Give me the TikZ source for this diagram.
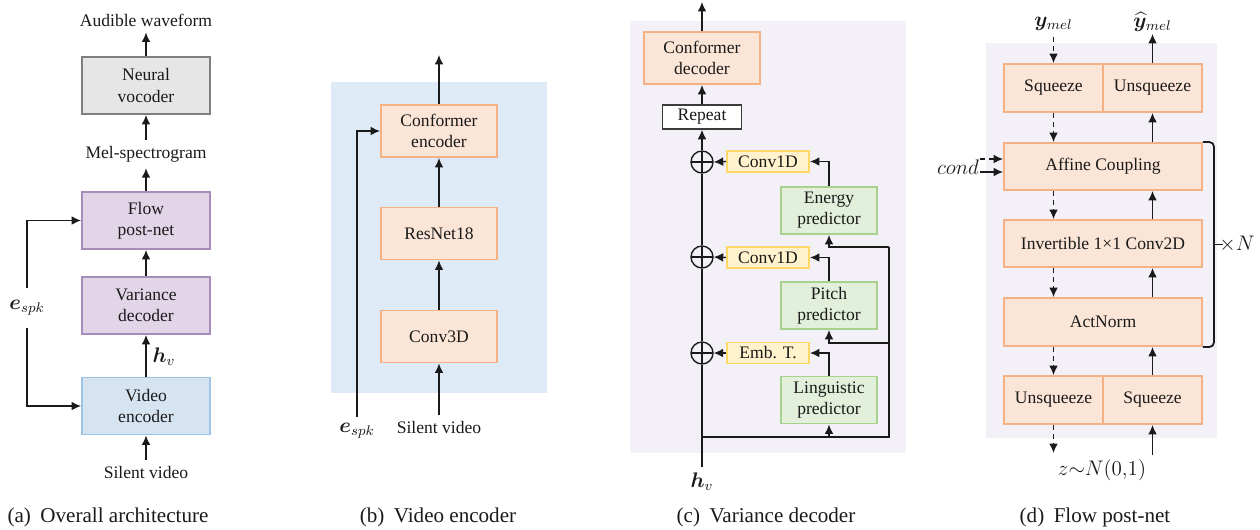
\documentclass[tikz,border=0pt]{standalone}
\usepackage{amsmath}
\usepackage{bm}
\usepackage{fontspec}
\setmainfont{Liberation Serif}
\usetikzlibrary{arrows.meta,calc}

\definecolor{orfill}{HTML}{FBE5D6}
\definecolor{ordraw}{HTML}{F4B183}
\definecolor{grfill}{HTML}{E2EFDA}
\definecolor{grdraw}{HTML}{A9D18E}
\definecolor{yefill}{HTML}{FFF2CC}
\definecolor{yedraw}{HTML}{FFD966}
\definecolor{pufill}{HTML}{E1D5E7}
\definecolor{pudraw}{HTML}{A68DBA}
\definecolor{blfill}{HTML}{D6E4F2}
\definecolor{bldraw}{HTML}{9DC3E6}
\definecolor{gyfill}{HTML}{E7E6E6}
\definecolor{gydraw}{HTML}{7F7F7F}
\definecolor{bgblue}{HTML}{DEEBF7}
\definecolor{bglav}{HTML}{F3F0F8}
\definecolor{ink}{HTML}{1A1A1A}

\tikzset{
  every node/.style={font=\fontsize{10}{12}\selectfont, text=ink},
  box/.style={draw, line width=1.1pt, align=center, inner sep=1pt},
  orbox/.style={box, draw=ordraw, fill=orfill},
  grbox/.style={box, draw=grdraw, fill=grfill},
  yebox/.style={box, draw=yedraw, fill=yefill},
  pubox/.style={box, draw=pudraw, fill=pufill},
  blbox/.style={box, draw=bldraw, fill=blfill},
  gybox/.style={box, draw=gydraw, fill=gyfill},
  whbox/.style={box, draw=ink!85, line width=0.9pt, fill=white},
  mathlbl/.style={font=\fontsize{11.5}{13}\selectfont},
  conn/.style={line width=0.8pt, draw=ink},
  arr/.style={conn, -{Latex[length=5.4pt,width=5pt]}},
  darr/.style={arr, dash pattern=on 3pt off 2.2pt},
  captext/.style={font=\fontsize{12}{14}\selectfont},
  oplus/.style={circle, draw=ink, line width=0.8pt, minimum size=0.44cm, inner sep=0pt,
    path picture={\draw[line width=0.8pt, ink]
      (path picture bounding box.north) -- (path picture bounding box.south)
      (path picture bounding box.west) -- (path picture bounding box.east);}},
}

\begin{document}
\begin{tikzpicture}[x=0.02cm, y=-0.02cm]
\useasboundingbox (0,0) rectangle (1260,529);

% ---------- (a) overall architecture ----------
\node (aud) at (146,20) {Audible waveform};
\node[gybox, minimum width=2.56cm, minimum height=1.14cm] (voc) at (146,85.5) {Neural\\vocoder};
\node (mel) at (146,154) {Mel-spectrogram};
\node[pubox, minimum width=2.56cm, minimum height=1.14cm] (flow) at (146,220.5) {Flow\\post-net};
\node[pubox, minimum width=2.56cm, minimum height=1.14cm] (var) at (146,305.5) {Variance\\decoder};
\node[blbox, minimum width=2.56cm, minimum height=1.14cm] (venc) at (146,406) {Video\\encoder};
\node (sva) at (146,472) {Silent video};
\node[mathlbl] (hva) at (164,357) {$\bm{h}_v$};
\node[mathlbl, inner ysep=7pt] (espka) at (27,308) {$\bm{e}_{spk}$};

\draw[arr] (voc.north) -- (aud.south);
\draw[arr] (mel.north) -- (voc.south);
\draw[arr] (flow.north) -- (mel.south);
\draw[arr] (var.north) -- (flow.south);
\draw[arr] (venc.north) -- (var.south);
\draw[arr] (sva.north) -- (venc.south);
\draw[arr] (espka.north) |- (flow.west);
\draw[arr] (espka.south) |- (venc.west);

\node[captext] (capa) at (108,517) {(a)\hspace{0.45em}Overall architecture};

% ---------- (b) video encoder ----------
\fill[bgblue] (331,82) rectangle (547,393);
\coordinate (bout) at (439,55);
\node[orbox, minimum width=2.32cm, minimum height=1.04cm] (cenc) at (439,131) {Conformer\\encoder};
\node[orbox, minimum width=2.32cm, minimum height=1.04cm] (res) at (439,233.5) {ResNet18};
\node[orbox, minimum width=2.32cm, minimum height=1.04cm] (c3d) at (439,336.5) {Conv3D};
\node (svb) at (439,427) {Silent video};
\node[mathlbl] (espkb) at (357,431) {$\bm{e}_{spk}$};

\draw[arr] (cenc.north) -- (bout);
\draw[arr] (res.north) -- (cenc.south);
\draw[arr] (c3d.north) -- (res.south);
\draw[arr] (svb.north) -- (c3d.south);
\draw[arr] (espkb.north) |- (cenc.west);

\node[captext] (capb) at (438,517) {(b)\hspace{0.45em}Video encoder};

% ---------- (c) variance decoder ----------
\fill[bglav] (630,21) rectangle (906,453);
\coordinate (cout) at (702,2);
\node[orbox, minimum width=2.32cm, minimum height=1.04cm] (cdec) at (702,58) {Conformer\\decoder};
\node[whbox, minimum width=1.58cm, minimum height=0.48cm] (rep) at (702,117) {Repeat};
\node[oplus] (p1) at (702,162) {};
\node[oplus] (p2) at (702,257) {};
\node[oplus] (p3) at (702,353) {};
\node[yebox, minimum width=1.64cm, minimum height=0.42cm] (cv1) at (768,161.5) {Conv1D};
\node[yebox, minimum width=1.64cm, minimum height=0.42cm] (cv2) at (768,257.5) {Conv1D};
\node[yebox, minimum width=1.64cm, minimum height=0.42cm] (emb) at (768,353) {Emb. T.};
\node[grbox, minimum width=1.92cm, minimum height=0.94cm] (en) at (829,210.5) {Energy\\predictor};
\node[grbox, minimum width=1.92cm, minimum height=0.94cm] (pi) at (829,305.5) {Pitch\\predictor};
\node[grbox, minimum width=1.92cm, minimum height=0.94cm] (li) at (829,400) {Linguistic\\predictor};
\node[mathlbl] (hvc) at (702,482) {$\bm{h}_v$};
\coordinate (br0) at (702,437);
\coordinate (br1) at (889,437);
\coordinate (brE) at (889,247);
\coordinate (brP) at (889,343);

\draw[conn] (hvc.north) -- (p3.south) (p3.north) -- (p2.south) (p2.north) -- (p1.south);
\draw[arr] (p1.north) -- (rep.south);
\draw[arr] (rep.north) -- (cdec.south);
\draw[arr] (cdec.north) -- (cout);
\draw[arr] (cv1.west) -- (p1.east);
\draw[arr] (cv2.west) -- (p2.east);
\draw[arr] (emb.west) -- (p3.east);
\draw[arr] (en.north) |- (cv1.east);
\draw[arr] (pi.north) |- (cv2.east);
\draw[arr] (li.north) |- (emb.east);
\draw[conn] (br0) -- (br1) -- (brE);
\draw[arr] (brE) -| (en.south);
\draw[arr] (brP) -| (pi.south);
\draw[arr] (br0 -| li.south) -- (li.south);

\node[captext] (capc) at (766,517) {(c)\hspace{0.45em}Variance decoder};

% ---------- (d) flow post-net ----------
\fill[bglav] (986,43) rectangle (1217,438);
\node[orbox, minimum width=1.98cm, minimum height=0.96cm] (sq1) at (1053.5,88) {Squeeze};
\node[orbox, minimum width=1.98cm, minimum height=0.96cm] (usq1) at (1152.5,88) {Unsqueeze};
\node[orbox, minimum width=3.96cm, minimum height=0.94cm] (aff) at (1103,166.5) {Affine Coupling};
\node[orbox, minimum width=3.96cm, minimum height=0.94cm] (inv) at (1103,243.5) {Invertible 1×1 Conv2D};
\node[orbox, minimum width=3.96cm, minimum height=0.96cm] (act) at (1103,322) {ActNorm};
\node[orbox, minimum width=1.98cm, minimum height=0.96cm] (usq2) at (1053.5,400) {Unsqueeze};
\node[orbox, minimum width=1.98cm, minimum height=0.96cm] (sq2) at (1152.5,400) {Squeeze};
\node[mathlbl] (ymel) at (1053.5,24) {$\bm{y}_{mel}$};
\node[mathlbl, inner sep=1pt] (yhat) at (1152.5,22) {$\widehat{\bm{y}}_{mel}$};
\node[mathlbl] (cond) at (958,167) {$cond$};
\node[mathlbl] (zn) at (1102,470) {$z{\sim}N(0{,}1)$};
\node[mathlbl, inner sep=1pt] (xn) at (1237,244) {$\times N$};
\coordinate (zout) at (1053.5,453);
\coordinate (zin) at (1152.5,455);
\coordinate (cd1) at (980,159);
\coordinate (cd2) at (980,172);
\coordinate (bmid) at ($(aff.north east)!0.5!(act.south east)+(11,0)$);
\coordinate (btip) at ($(bmid)+(9,0)$);

\draw[darr] (ymel.south) -- (sq1.north);
\draw[arr] (usq1.north) -- (yhat.south);
\draw[darr] (sq1.south) -- (aff.north -| sq1.south);
\draw[arr] (aff.north -| usq1.south) -- (usq1.south);
\draw[darr] (aff.south -| sq1.south) -- (inv.north -| sq1.south);
\draw[arr] (inv.north -| usq1.south) -- (aff.south -| usq1.south);
\draw[darr] (inv.south -| sq1.south) -- (act.north -| sq1.south);
\draw[arr] (act.north -| usq1.south) -- (inv.south -| usq1.south);
\draw[darr] (act.south -| sq1.south) -- (usq2.north);
\draw[arr] (sq2.north) -- (act.south -| sq2.north);
\draw[darr] (usq2.south) -- (zout);
\draw[arr] (zin) -- (sq2.south);
\draw[darr] (cd1) -- (cd1 -| aff.west);
\draw[arr] (cd2) -- (cd2 -| aff.west);
% bracket spanning the repeated flow step
\draw[conn, line width=1pt, rounded corners=0.09cm]
  (aff.north east) -- ($(aff.north east)+(11,0)$) -- ($(act.south east)+(11,0)$) -- (act.south east);
\draw[conn, line width=1pt] (bmid) -- (btip);

\node[captext] (capd) at (1095,517) {(d)\hspace{0.45em}Flow post-net};
\end{tikzpicture}
\end{document}
